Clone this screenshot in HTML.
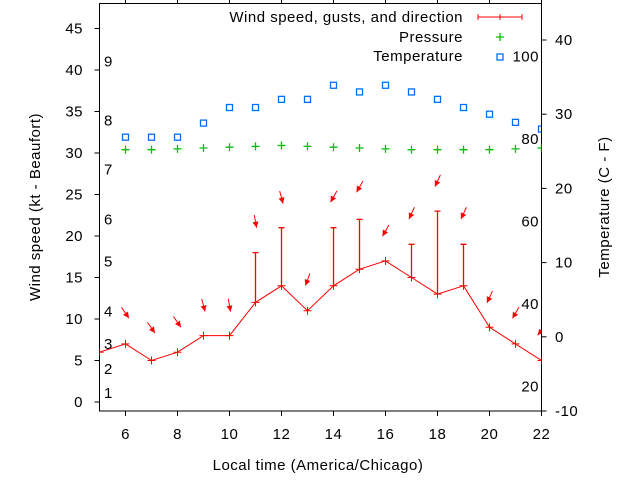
<!DOCTYPE html>
<html><head><meta charset="utf-8"><style>
body{margin:0;background:#fff;}
svg{display:block;font-family:"Liberation Sans",sans-serif;}
text{letter-spacing:0.5px;}
</style></head><body>
<svg id="c" width="640" height="480"></svg>
<script>
const hours=[5,6,7,8,9,10,11,12,13,14,15,16,17,18,19,20,21,22];
const wind=[6,7,5,6,8,8,12,14,11,14,16,17,15,13,14,9,7,5];
const gustHours=[11,12,14,15,17,18,19];
const gusts=[18,21,21,22,19,23,19];
const arrowHours=[6,7,8,9,10,11,12,13,14,15,16,17,18,19,20,21,22];
const arrowSpeed=[10.7,8.9,9.6,11.6,11.6,21.7,24.6,14.7,24.7,25.9,20.6,22.7,26.6,22.7,12.6,10.7,8.6];
const arrowDir=[325,325,325,345,350,350,345,20,30,30,30,25,25,25,25,30,40];
const tempHours=[6,7,8,9,10,11,12,13,14,15,16,17,18,19,20,21,22];
const tempC=[26.9,26.9,26.9,28.8,30.9,30.9,32,32,33.9,33,33.9,33,32,30.9,30,28.9,28];
const pressHours=[6,7,8,9,10,11,12,13,14,15,16,17,18,19,20,21,22];
const pressure=[30.4,30.4,30.5,30.6,30.7,30.8,30.9,30.8,30.7,30.6,30.5,30.4,30.4,30.4,30.4,30.5,30.6];
const xTicks=[6,8,10,12,14,16,18,20,22];
const yTicks=[0,5,10,15,20,25,30,35,40,45];
const y2Ticks=[-10,0,10,20,30,40];
const fTicks=[20,40,60,80,100];
const beaufort=[[1,1.1],[2,4],[3,7],[4,10.9],[5,16.9],[6,22],[7,28],[8,33.9],[9,41]];

const L=99.5,R=541.5,T=3.5,B=411;
const X=h=>L+(h-5)*(R-L)/17;
const Y=v=>402-v*8.3;
const Y2=c=>411-(c+10)*7.42;
const YF=f=>Y2((f-32)*5/9);
const svg=document.getElementById('c');
const NS='http://www.w3.org/2000/svg';
function mk(t,a,p){const e=document.createElementNS(NS,t);for(const k in a)e.setAttribute(k,a[k]);(p||svg).appendChild(e);return e;}
function txt(x,y,s,anchor,name){const e=mk('text',{x:x,y:y,'font-size':15,'text-anchor':anchor||'middle',fill:'#000'});e.textContent=s;


return e;}

const fr=mk('rect',{x:L,y:T,width:R-L,height:B-T,fill:'none',stroke:'#000','stroke-width':1});



xTicks.forEach(h=>{
  mk('line',{x1:X(h),x2:X(h),y1:B,y2:B+5,stroke:'#000'});
  mk('line',{x1:X(h),x2:X(h),y1:T,y2:T-4,stroke:'#000'});
  txt(X(h),439,String(h),'middle','x-tick-label');
});
yTicks.forEach(v=>{
  mk('line',{x1:L,x2:L-5,y1:Y(v),y2:Y(v),stroke:'#000'});
  txt(83,Y(v)+5,String(v),'end','y-tick-label');
});
y2Ticks.forEach(v=>{
  mk('line',{x1:R,x2:R+5,y1:Y2(v),y2:Y2(v),stroke:'#000'});
  txt(555,Y2(v)+5,String(v),'start','y2-tick-label');
});
fTicks.forEach(f=>txt(539,YF(f)+5,String(f),'end','fahrenheit-label'));
beaufort.forEach(b=>txt(104,Y(b[1])+5,String(b[0]),'start','beaufort-label'));

const yl=txt(40,207,'Wind speed (kt - Beaufort)','middle','y-axis-title');yl.setAttribute('transform','rotate(-90 40 207)');
const y2l=txt(609,207,'Temperature (C - F)','middle','y2-axis-title');y2l.setAttribute('transform','rotate(-90 609 207)');
txt(318,470,'Local time (America/Chicago)','middle','x-axis-title');

const defs=mk('defs',{});
const cp=mk('clipPath',{id:'clip'},defs);mk('rect',{x:L,y:T,width:R-L,height:B-T},cp);
const g=mk('g',{});
g.setAttribute('clip-path','url(#clip)');

const wl=mk('polyline',{points:hours.map((h,i)=>X(h)+','+Y(wind[i])).join(' '),fill:'none',stroke:'#f00','stroke-width':1},g);


hours.forEach((h,i)=>{const x=X(h),y=Y(wind[i]);
  const p=mk('path',{d:`M${x-4},${y}H${x+4}M${x},${y-4}V${y+4}`,stroke:'#f00'},g);
  
  });
gustHours.forEach((h,i)=>{const x=X(h),y0=Y(wind[hours.indexOf(h)]),y1=Y(gusts[i]);
  const p=mk('path',{d:`M${x},${y0}V${y1}M${x-3},${y1}H${x+3}`,stroke:'#f00','stroke-width':1.3},g);
  
  });
arrowHours.forEach((h,i)=>{const cx=X(h),cy=Y(arrowSpeed[i]);const a=arrowDir[i]*Math.PI/180;
  const dx=-Math.sin(a),dy=Math.cos(a);
  const hx=cx+dx*6,hy=cy+dy*6,tx=cx-dx*7,ty=cy-dy*7;
  const px=-dy,py=dx;
  const ag=mk('g',{},g);
  
  
  mk('line',{x1:tx,y1:ty,x2:hx,y2:hy,stroke:'#f00'},ag);
  mk('polygon',{points:`${hx},${hy} ${hx-dx*6+px*3},${hy-dy*6+py*3} ${hx-dx*6-px*3},${hy-dy*6-py*3}`,fill:'#f00'},ag);});
pressHours.forEach((h,i)=>{const x=X(h),y=Y(pressure[i]);
  const p=mk('path',{d:`M${x-4},${y}H${x+4}M${x},${y-4}V${y+4}`,stroke:'#00c000','stroke-width':1.3},g);
  
  });
tempHours.forEach((h,i)=>{const x=X(h),y=Y2(tempC[i]);
  const r=mk('rect',{x:x-3,y:y-3,width:6,height:6,fill:'none',stroke:'#0070f0','stroke-width':1.3},g);
  
  });

const lg=mk('g',{});


txt(463,22,'Wind speed, gusts, and direction','end','legend-wind');
mk('path',{d:'M478,17H522M478,14V20M500,14V20M522,14V20',stroke:'#f00'},lg);
txt(463,42,'Pressure','end','legend-pressure');
mk('path',{d:'M496,37H504M500,33V41',stroke:'#00c000','stroke-width':1.3},lg);
txt(463,61,'Temperature','end','legend-temperature');
mk('rect',{x:497,y:54,width:6,height:6,fill:'none',stroke:'#0070f0','stroke-width':1.3},lg);
</script>
</body></html>
